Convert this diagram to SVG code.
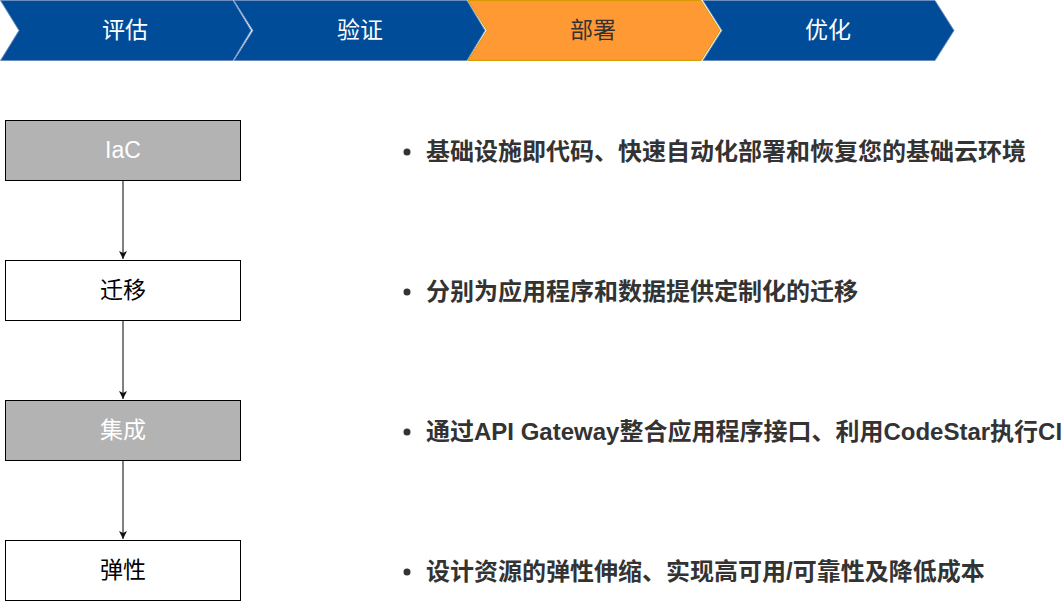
<svg xmlns="http://www.w3.org/2000/svg" width="1064" height="612" viewBox="0 0 1064 612">
<style>
.chev{stroke:#6C8EBF;stroke-width:1}
.blue{fill:#004C99}
.orange{fill:#FF9933;stroke:#D79B00}
.clab{font-family:"Liberation Sans","Noto Sans CJK SC",sans-serif;font-size:23px;text-anchor:middle;dominant-baseline:central}
.box{stroke:#000;stroke-width:1}
.gray{fill:#B3B3B3}
.white{fill:#FFFFFF}
.blab{font-family:"Liberation Sans","Noto Sans CJK SC",sans-serif;font-size:23px;text-anchor:middle;dominant-baseline:central}
.bul{font-family:"Liberation Sans","Noto Sans CJK SC",sans-serif;font-size:24px;font-weight:bold;fill:#333333;dominant-baseline:central}
.conn{stroke:#808080;stroke-width:2;fill:none}
</style>
<defs>
<marker id="arr" markerWidth="10" markerHeight="10" refX="8" refY="4" orient="auto" markerUnits="userSpaceOnUse">
<path d="M0,0 L8,4 L0,8 L2,4 Z" fill="#111111"/>
</marker>
</defs>
<rect width="1064" height="612" fill="#FFFFFF"/>
<g id="chevron-eval">
<polygon class="chev blue" points="0.5,0.5 233,0.5 251,30.5 233,60.5 0.5,60.5 19,30.5"/>
<text class="clab" x="125" y="30" fill="#FFFFFF">评估</text>
</g>
<g id="chevron-verify">
<polygon class="chev blue" points="234,0.5 467,0.5 485,30.5 467,60.5 234,60.5 253,30.5"/>
<text class="clab" x="360" y="30" fill="#FFFFFF">验证</text>
</g>
<g id="chevron-deploy">
<polygon class="chev orange" points="468,0.5 701,0.5 720,30.5 701,60.5 468,60.5 487,30.5"/>
<text class="clab" x="593" y="30" fill="#333333">部署</text>
</g>
<g id="chevron-optimize">
<polygon class="chev blue" points="703,0.5 935,0.5 954,30.5 935,60.5 703,60.5 722,30.5"/>
<text class="clab" x="828" y="30" fill="#FFFFFF">优化</text>
</g>
<g id="connectors">
<line class="conn" x1="123" y1="181" x2="123" y2="259" marker-end="url(#arr)"/>
<line class="conn" x1="123" y1="321" x2="123" y2="399" marker-end="url(#arr)"/>
<line class="conn" x1="123" y1="461" x2="123" y2="539" marker-end="url(#arr)"/>
</g>
<g id="node-iac">
<rect class="box gray" x="5.5" y="120.5" width="235" height="60"/>
<text class="blab" x="123" y="150" fill="#FFFFFF">IaC</text>
</g>
<g id="node-migrate">
<rect class="box white" x="5.5" y="260.5" width="235" height="60"/>
<text class="blab" x="123" y="290" fill="#000000">迁移</text>
</g>
<g id="node-integrate">
<rect class="box gray" x="5.5" y="400.5" width="235" height="60"/>
<text class="blab" x="123" y="430" fill="#FFFFFF">集成</text>
</g>
<g id="node-elastic">
<rect class="box white" x="5.5" y="540.5" width="235" height="60"/>
<text class="blab" x="123" y="570" fill="#000000">弹性</text>
</g>
<g id="bullets">
<circle cx="407" cy="152" r="3.5" fill="#333333"/>
<text class="bul" x="426" y="151">基础设施即代码、快速自动化部署和恢复您的基础云环境</text>
<circle cx="407" cy="292" r="3.5" fill="#333333"/>
<text class="bul" x="426" y="291">分别为应用程序和数据提供定制化的迁移</text>
<circle cx="407" cy="432" r="3.5" fill="#333333"/>
<text class="bul" x="426" y="431">通过API Gateway整合应用程序接口、利用CodeStar执行CI</text>
<circle cx="407" cy="572" r="3.5" fill="#333333"/>
<text class="bul" x="426" y="571">设计资源的弹性伸缩、实现高可用/可靠性及降低成本</text>
</g>
</svg>
